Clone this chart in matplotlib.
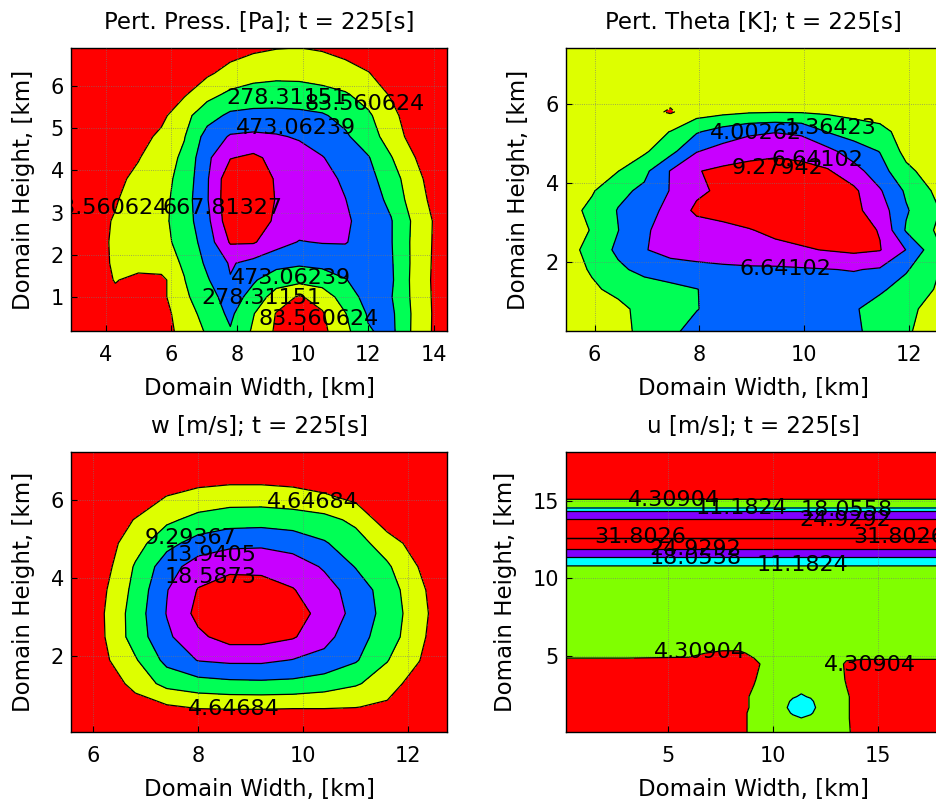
import numpy as np
import matplotlib
matplotlib.use("Agg")
import matplotlib.pyplot as plt

plt.rcParams["font.family"] = ["DejaVu Sans"]

# -------------------------------
# Pert. pressure [Pa] (values on a coarse grid)
# -------------------------------
press_x = [2.9, 3.6, 4.3, 5.0, 5.7, 6.4, 7.1, 7.8, 8.5, 9.2, 9.9, 10.6, 11.3, 12.0, 12.7, 13.4, 14.4]
press_y = [0.15, 0.6, 1.0, 1.4, 1.8, 2.3, 2.8, 3.3, 3.8, 4.3, 4.8, 5.3, 5.8, 6.3, 6.95]
press_field = [
    [-33, -33, -24, -14, -4, 148, 298, 454, 249, 54, -33, 35, 220, 454, 522, 234, -53],
    [-33, -33, -24, -4, 6, 181, 356, 512, 288, 74, -14, 64, 269, 493, 512, 240, -53],
    [-43, -33, 45, 6, 35, 240, 405, 551, 415, 181, 64, 162, 376, 541, 483, 230, -53],
    [-24, -4, 93, 35, 25, 273, 454, 658, 493, 376, 337, 376, 463, 571, 502, 220, -53],
    [-14, 25, 103, 152, 201, 298, 512, 687, 610, 532, 502, 522, 571, 610, 493, 230, -53],
    [-4, 35, 103, 171, 230, 337, 571, 882, 882, 746, 658, 678, 678, 590, 483, 230, -43],
    [6, 45, 93, 162, 230, 376, 620, 990, 960, 834, 775, 746, 697, 590, 483, 240, -43],
    [-14, 25, 74, 142, 220, 376, 655, 1010, 990, 853, 785, 736, 672, 561, 430, 173, -53],
    [-33, -4, 45, 123, 210, 347, 650, 1000, 985, 843, 765, 726, 639, 532, 376, 142, -72],
    [-72, -43, -4, 74, 181, 317, 629, 853, 902, 804, 746, 678, 571, 487, 288, 93, -170],
    [-111, -82, -43, 16, 123, 269, 551, 687, 707, 687, 649, 571, 502, 366, 191, 6, -170],
    [-170, -131, -92, -33, 35, 220, 395, 512, 532, 532, 522, 493, 415, 308, 142, -33, -209],
    [-209, -170, -131, -82, -14, 64, 220, 317, 356, 366, 356, 337, 298, 201, 64, -92, -247],
    [-267, -228, -189, -150, -92, -24, 54, 152, 210, 230, 230, 201, 152, 93, -14, -131, -267],
    [-325, -286, -247, -209, -170, -131, -72, -14, 35, 64, 74, 54, 16, -43, -111, -189, -306],
]
press_levels = [83.560624, 278.31151, 473.06239, 667.81327, 862.56415]
press_labels = [(9.5, 5.72, 1), (11.9, 5.58, 0), (9.8, 5.01, 2), (4.07, 3.1, 0),
                (7.55, 3.1, 3), (9.65, 1.45, 2), (8.75, 0.98, 1), (10.5, 0.47, 0)]

# -------------------------------
# Pert. theta [K]
# -------------------------------
theta_x = [5.45, 5.95, 6.45, 6.95, 7.45, 7.95, 8.45, 8.95, 9.45, 9.95, 10.45, 10.95, 11.45, 11.95, 12.65]
theta_y = [0.2, 0.8, 1.3, 1.8, 2.3, 2.8, 3.3, 3.8, 4.3, 4.8, 5.3, 5.8, 6.4, 7.45]
theta_field = [
    [0.0, 0.0, 0.57, 2.02, 3.61, 4.79, 5.32, 5.59, 5.59, 5.45, 5.06, 4.40, 3.21, 1.63, 0.0],
    [0.0, 0.0, 0.70, 2.16, 3.08, 3.92, 4.79, 5.32, 5.45, 5.32, 4.93, 4.27, 2.95, 1.89, 0.31],
    [0.0, 0.97, 2.02, 2.68, 3.21, 3.95, 4.79, 5.45, 5.72, 5.98, 6.11, 5.45, 4.40, 2.95, 0.84],
    [0.18, 1.63, 3.47, 4.79, 5.59, 5.85, 6.11, 6.24, 6.24, 6.38, 6.56, 6.77, 6.38, 4.27, 1.10],
    [0.31, 2.29, 4.53, 6.51, 7.43, 7.83, 8.09, 8.36, 8.62, 9.02, 9.41, 9.81, 9.41, 6.59, 1.23],
    [0.18, 1.50, 3.95, 6.38, 7.43, 7.96, 8.49, 9.15, 9.81, 10.20, 10.33, 10.20, 9.15, 3.74, 0.57],
    [0.31, 2.02, 4.13, 5.59, 7.43, 9.81, 10.33, 10.60, 10.73, 10.73, 10.47, 9.94, 7.96, 4.27, 1.10],
    [-0.22, 1.10, 3.34, 4.53, 6.77, 8.75, 9.81, 10.33, 10.60, 10.47, 10.20, 9.81, 6.90, 3.61, 0.31],
    [-0.48, 0.31, 1.31, 3.34, 6.77, 9.15, 9.81, 10.07, 10.07, 9.94, 9.54, 7.70, 5.06, 2.02, -0.48],
    [-0.75, -0.48, -0.09, 0.97, 3.21, 6.51, 7.70, 8.49, 8.88, 8.62, 7.43, 5.32, 3.92, 0.57, -0.75],
    [-1.01, -0.75, -0.48, 0.31, 1.42, 3.74, 5.06, 6.11, 6.51, 6.11, 3.87, 2.82, 2.16, 0.31, -0.75],
    [-1.01, -0.88, -0.75, -0.48, -1.54, 0.18, 0.70, 1.10, 1.23, 1.18, 0.97, 0.57, 0.18, -0.35, -0.75],
    [0.0, 0.0, 0.0, 0.0, 0.0, 0.0, 0.0, 0.0, 0.0, 0.0, 0.0, 0.0, 0.0, 0.0, 0.0],
    [0.0, 0.0, 0.0, 0.0, 0.0, 0.0, 0.0, 0.0, 0.0, 0.0, 0.0, 0.0, 0.0, 0.0, 0.0],
]
theta_levels = [-1.27416, 1.36423, 4.00262, 6.64102, 9.27942]
theta_labels = [(9.08, 5.27, 2), (10.5, 5.39, 1), (10.25, 4.59, 3), (9.5, 4.38, 4), (9.65, 1.81, 3)]

# -------------------------------
# w [m/s]
# -------------------------------
w_x = [5.55, 6.2, 6.8, 7.4, 8.0, 8.6, 9.2, 9.8, 10.4, 11.0, 11.6, 12.2, 12.8]
w_y = [0.05, 0.7, 1.3, 1.9, 2.5, 3.1, 3.7, 4.3, 4.9, 5.5, 6.1, 6.7, 7.3]
w_field = [
    [-2, -2, -2, -2, -2, -2, -2, -2, -2, -2, -2, -2, -2],
    [-2.3, 0, 1.9, 4.0, 5.1, 5.3, 5.3, 5.1, 5.1, 4.8, 3.7, 1.4, 0],
    [-2.3, 0.9, 6.5, 10.7, 12.1, 12.8, 13.0, 12.8, 11.6, 9.8, 7.0, 2.1, -1.0],
    [-1.4, 3.7, 8.8, 15.3, 18.8, 19.5, 19.5, 18.4, 17.2, 14.4, 9.5, 4.9, -1.4],
    [-2.3, 4.4, 11.4, 17.7, 22.3, 25.1, 25.1, 23.7, 20.0, 15.8, 11.6, 6.0, 0],
    [-1.9, 4.55, 11.5, 18.8, 24.6, 26.5, 27.0, 25.6, 21.4, 17.2, 12.1, 6.5, 0.5],
    [-2.3, 4.0, 10.7, 18.4, 23.5, 25.1, 25.1, 23.5, 20.4, 16.7, 11.6, 6.0, 0],
    [-2.3, 2.8, 9.8, 16.5, 20.9, 22.3, 22.1, 20.9, 18.1, 13.7, 10.0, 4.5, -0.9],
    [-2.3, 2.3, 7.4, 12.5, 15.8, 17.4, 17.7, 16.7, 14.4, 11.2, 7.0, 2.3, -2.3],
    [-3.7, 1.4, 4.9, 8.4, 10.7, 11.9, 12.1, 11.6, 10.7, 8.3, 2.1, -1.4, -3.7],
    [-4.6, -2.3, 1.4, 4.75, 6.3, 7.0, 7.0, 6.5, 5.3, 3.3, 0, -2.3, -4.6],
    [-7, -4.6, -2.3, 0, 1.9, 2.3, 2.3, 1.9, 0.9, -0.9, -2.8, -4.6, -7],
    [-5, -5, -5, -5, -5, -5, -5, -5, -5, -5, -5, -5, -5],
]
w_levels = [4.64684, 9.29367, 13.9405, 18.5873, 23.2342]
w_labels = [(10.18, 5.97, 0), (7.86, 5.04, 1), (8.24, 4.6, 2), (8.24, 4.04, 3), (8.67, 0.65, 0)]

# -------------------------------
# u [m/s]: lower block varies in x, upper part is a height profile
# -------------------------------
u_x = [0.1, 3.0, 6.0, 7.6, 8.4, 9.1, 9.8, 10.6, 10.95, 11.35, 11.8, 12.1, 12.9, 13.5, 14.3, 16.5, 18.2]
u_y_low = [0.1, 1.0, 1.35, 1.7, 2.1, 2.4, 3.5, 4.5, 5.2]
u_low = [
    [1, 1, 1, 1.5, 3.0, 5.5, 7.0, 8.0, 8.3, 8.5, 8.3, 8.0, 6.5, 5.0, 2.0, 1, 1],
    [1, 1, 1, 1.5, 3.0, 5.5, 7.0, 8.5, 9.5, 11.0, 9.5, 8.5, 6.5, 4.8, 2.0, 1, 1],
    [1, 1, 1, 1.5, 3.0, 5.5, 7.0, 9.5, 12.0, 13.0, 12.0, 9.5, 6.5, 4.8, 2.0, 1, 1],
    [1, 1, 1, 1.5, 3.0, 5.0, 7.0, 10.5, 13.5, 14.0, 13.5, 10.5, 6.5, 4.8, 2.0, 1, 1],
    [1, 1, 1, 1.5, 3.0, 5.0, 7.0, 9.5, 12.5, 13.5, 12.5, 9.5, 6.5, 4.8, 2.0, 1, 1],
    [1, 1, 1, 1.5, 3.0, 5.0, 7.0, 9.0, 10.5, 12.0, 10.5, 9.0, 6.5, 4.8, 2.0, 1, 1],
    [1.5, 1.5, 1.5, 2.0, 2.5, 4.0, 6.5, 7.0, 7.0, 7.0, 7.0, 7.0, 6.5, 4.0, 2.0, 1.5, 1.5],
    [3.5, 3.5, 3.5, 3.5, 3.5, 3.5, 5.5, 7.0, 7.0, 7.0, 7.0, 7.0, 6.0, 3.8, 3.8, 3.8, 3.8],
    [5.0, 5.0, 4.8, 3.8, 3.8, 5.0, 6.5, 6.5, 6.5, 6.5, 6.5, 6.5, 6.5, 5.5, 5.0, 5.0, 5.0],
]
u_y_high = [6.0, 8.0, 10.3, 10.95, 11.45, 11.9, 12.4, 12.6, 12.8, 13.3, 13.7, 13.95,
            14.25, 14.5, 14.85, 15.4, 16.5, 18.2]
u_profile = [6.5, 6.5, 6.5, 12.5, 19.0, 24.7, 29.5, 32.0, 29.5, 28.0, 26.4, 23.8,
             20.5, 11.7, 5.7, 2.5, 1.0, 0.5]
u_levels = [4.30904, 11.1824, 18.0558, 24.9292, 31.8026]
u_labels = [(5.29, 15.06, 0), (8.51, 14.53, 1), (13.5, 14.38, 2), (13.45, 13.74, 3),
            (3.7, 12.67, 4), (16.0, 12.67, 4), (6.29, 11.88, 3), (6.3, 11.32, 2),
            (11.4, 10.85, 1), (6.52, 5.28, 0), (14.62, 4.46, 0)]

six_colors = ["#FF0000", "#DDFF00", "#00FF55", "#0064FF", "#C800FF", "#FF0000"]
u_colors = ["#FF0000", "#80FF00", "#00FFFF", "#8000FF", "#FF0000", "#FF0000"]


def draw_panel(rect, x, y, z, levels, colors, fmt, spots, title, xlim, ylim, xticks, yticks):
    ax = fig.add_axes(rect)
    z = np.asarray(z, dtype=float)
    bounds = [z.min() - 1.0] + list(levels) + [z.max() + 1.0]
    ax.contourf(x, y, z, levels=bounds, colors=colors)
    ax.contour(x, y, z, levels=levels, colors="k", linewidths=0.9)
    for sx, sy, k in spots:
        ax.text(sx, sy, fmt.format(levels[k]), ha="center", va="center",
                fontsize=16, zorder=5, clip_on=True)
    ax.set_xlim(xlim)
    ax.set_ylim(ylim)
    ax.set_xticks(xticks)
    ax.set_yticks(yticks)
    ax.tick_params(axis="x", direction="in", labelsize=15, pad=10, length=4)
    ax.tick_params(axis="y", direction="in", labelsize=15, pad=5, length=4)
    ax.set_axisbelow(False)
    ax.grid(True, linestyle=":", color="#777777", linewidth=0.6, alpha=0.8)
    for sp in ax.spines.values():
        sp.set_linewidth(1.0)
    ax.set_title(title, fontsize=16.5, pad=14)
    ax.set_xlabel("Domain Width, [km]", fontsize=16.5, labelpad=9)
    ax.set_ylabel("Domain Height, [km]", fontsize=16.5, labelpad=11)
    return ax


fig = plt.figure(figsize=(9.36, 8.08), dpi=100)

draw_panel([0.0759, 0.5903, 0.4017, 0.3502], press_x, press_y, press_field, press_levels,
           six_colors, "{:.8g}", press_labels, "Pert. Press. [Pa]; t = 225[s]",
           (2.95, 14.4), (0.19, 6.9), [4, 6, 8, 10, 12, 14], [1, 2, 3, 4, 5, 6])

draw_panel([0.6044, 0.5903, 0.4017, 0.3502], theta_x, theta_y, theta_field, theta_levels,
           six_colors, "{:.6g}", theta_labels, "Pert. Theta [K]; t = 225[s]",
           (5.45, 12.63), (0.24, 7.42), [6, 8, 10, 12], [2, 4, 6])

draw_panel([0.0759, 0.0941, 0.4017, 0.3465], w_x, w_y, w_field, w_levels,
           six_colors, "{:.6g}", w_labels, "w [m/s]; t = 225[s]",
           (5.575, 12.74), (0.06, 7.24), [6, 8, 10, 12], [2, 4, 6])

u_y = u_y_low + u_y_high
u_field = np.vstack([np.asarray(u_low), np.repeat(np.asarray(u_profile)[:, None], len(u_x), axis=1)])
draw_panel([0.6044, 0.0941, 0.4017, 0.3465], u_x, u_y, u_field, u_levels,
           u_colors, "{:.6g}", u_labels, "u [m/s]; t = 225[s]",
           (0.13, 18.04), (0.13, 18.13), [5, 10, 15], [5, 10, 15])

fig.savefig("out.png", dpi=100)
